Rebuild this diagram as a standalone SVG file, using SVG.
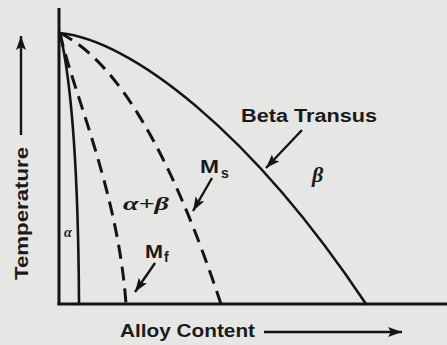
<svg xmlns="http://www.w3.org/2000/svg" width="447" height="345" viewBox="0 0 447 345">
<defs>
<style>
.ax{stroke:#141414;stroke-width:3;fill:none}
.sol{stroke:#141414;stroke-width:2.6;fill:none;stroke-linecap:round}
.dash{stroke:#141414;stroke-width:3;fill:none;stroke-dasharray:14 8}
.ptr{stroke:#141414;stroke-width:2.4;fill:none}
.lbl{font-family:"Liberation Sans",Arial,sans-serif;font-weight:bold;fill:#1a1a1a}
.gr{font-family:"Liberation Serif","DejaVu Serif",serif;font-style:italic;font-weight:bold;fill:#1a1a1a}
</style>
<marker id="ah" markerUnits="userSpaceOnUse" markerWidth="16" markerHeight="12" refX="14" refY="5" orient="auto" viewBox="0 0 16 10">
<path d="M0,0 L14,5 L0,10 L3,5 Z" fill="#141414"/>
</marker>
</defs>
<rect x="0" y="0" width="447" height="345" fill="#e6e6e5"/>
<g id="axes">
<line class="ax" x1="59" y1="8" x2="59" y2="305"/>
<line class="ax" x1="57.5" y1="304" x2="447" y2="304"/>
</g>
<g id="connectors">
<path id="alpha-line" class="sol" d="M60,33 Q78,110 79,304"/>
<path id="mf-line" class="dash" d="M60,33 C72,90 118,190 126,304"/>
<path id="ms-line" class="dash" d="M60,33 Q145,75 221,304"/>
<path id="transus-line" class="sol" d="M60,33 C130,40 250,130 366,304"/>
<line class="ptr" x1="302" y1="130" x2="266" y2="168" marker-end="url(#ah)"/>
<line class="ptr" x1="212" y1="178" x2="193" y2="211" marker-end="url(#ah)"/>
<line class="ptr" x1="155" y1="263" x2="135" y2="292" marker-end="url(#ah)"/>
<line class="ptr" x1="21" y1="135" x2="21" y2="36" marker-end="url(#ah)"/>
<line class="ptr" x1="264" y1="332" x2="402" y2="332" marker-end="url(#ah)"/>
</g>
<g id="label-beta-transus"><text class="lbl" x="241" y="122" font-size="17.5" textLength="136" lengthAdjust="spacingAndGlyphs">Beta Transus</text></g>
<g id="label-beta"><text class="gr" x="312" y="182" font-size="22">β</text></g>
<g id="label-ms"><text class="lbl" x="200" y="173" font-size="18" textLength="19" lengthAdjust="spacingAndGlyphs">M</text><text class="lbl" x="221" y="178" font-size="14">s</text></g>
<g id="label-alpha-beta"><text class="gr" x="123" y="210" font-size="18" textLength="46" lengthAdjust="spacingAndGlyphs">α+β</text></g>
<g id="label-mf"><text class="lbl" x="145" y="258" font-size="18" textLength="18" lengthAdjust="spacingAndGlyphs">M</text><text class="lbl" x="164" y="262" font-size="14">f</text></g>
<g id="label-alpha"><text class="gr" x="64" y="237" font-size="14">α</text></g>
<g id="label-temperature"><text class="lbl" transform="translate(28,280) rotate(-90)" font-size="17.5" textLength="133" lengthAdjust="spacingAndGlyphs">Temperature</text></g>
<g id="label-alloy"><text class="lbl" x="120" y="337" font-size="17.5" textLength="135" lengthAdjust="spacingAndGlyphs">Alloy Content</text></g>
</svg>
